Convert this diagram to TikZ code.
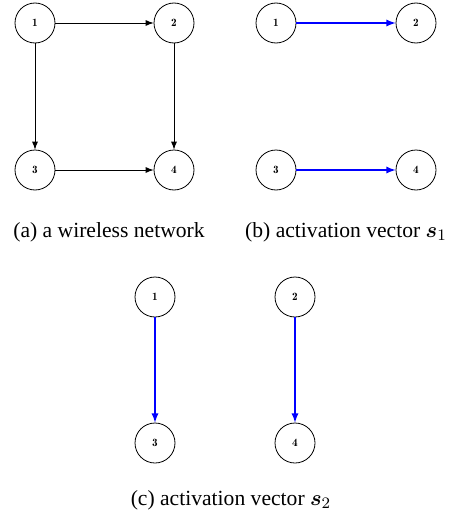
\documentclass[tikz,border=0pt]{standalone}
\usepackage{amsmath}
\usepackage{bm}
\usepackage{fontspec}
\setmainfont{Liberation Serif}
\usepackage{tikz}
\usetikzlibrary{arrows}

\tikzset{
  station/.style={circle, draw, thin, minimum size=20pt, inner sep=0pt, font=\fontfamily{lmr}\selectfont\fontsize{5.6}{6}\selectfont\bfseries},
  link/.style={-latex, thin},
  active/.style={-latex, blue, semithick},
  caption/.style={font=\fontsize{10.8}{13}\selectfont}
}

\begin{document}
\begin{tikzpicture}[x=0.5pt, y=-0.5pt]
                \useasboundingbox (0,0) rectangle (456,514);

                % (a) wireless network
                \node[station] (a1) at (35,23) {1};
                \node[station] (a2) at (174,23) {2};
                \node[station] (a3) at (35,170) {3};
                \node[station] (a4) at (174,170) {4};
                \draw[link] (a1) -- (a2);
                \draw[link] (a1) -- (a3);
                \draw[link] (a2) -- (a4);
                \draw[link] (a3) -- (a4);
                \node[caption] (capa) at (109,232) {(a) a wireless network};

                % (b) activation vector s1
                \node[station] (b1) at (276,23) {1};
                \node[station] (b2) at (416,23) {2};
                \node[station] (b3) at (276,170) {3};
                \node[station] (b4) at (416,170) {4};
                \draw[active] (b1) -- (b2);
                \draw[active] (b3) -- (b4);
                \node[caption] (capb) at (346,232) {(b) activation vector $\bm{s}_1$};

                % (c) activation vector s2
                \node[station] (c1) at (155,297) {1};
                \node[station] (c2) at (295,297) {2};
                \node[station] (c3) at (155,443) {3};
                \node[station] (c4) at (295,443) {4};
                \draw[active] (c1) -- (c3);
                \draw[active] (c2) -- (c4);
                \node[caption] (capc) at (231,500) {(c) activation vector $\bm{s}_2$};
            \end{tikzpicture}
\end{document}
